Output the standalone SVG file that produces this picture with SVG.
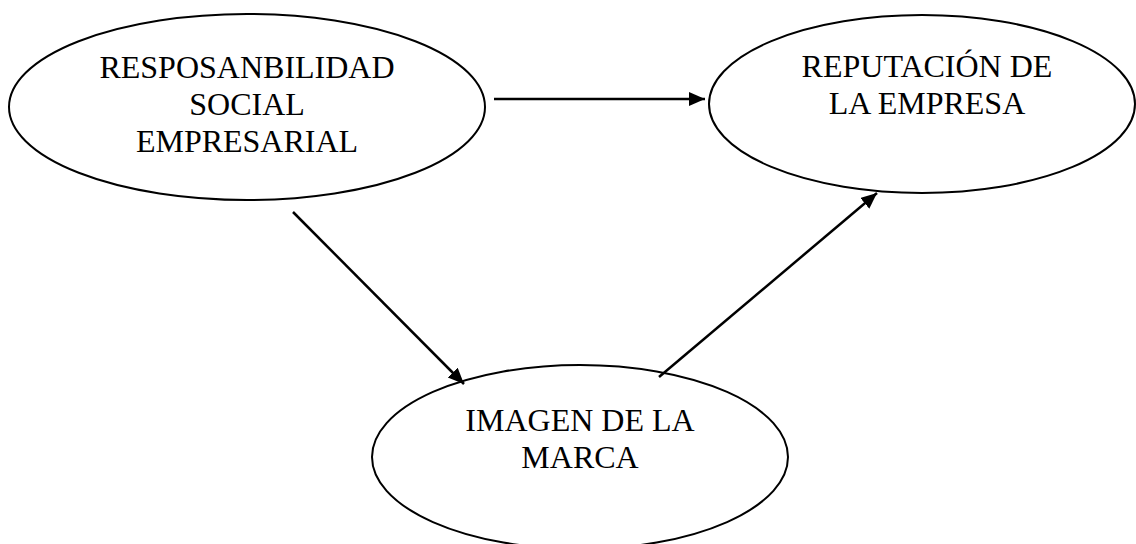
<svg xmlns="http://www.w3.org/2000/svg" width="1136" height="544" viewBox="0 0 1136 544">
  <defs>
    <marker id="arrow" markerUnits="userSpaceOnUse" markerWidth="18" markerHeight="16" refX="16" refY="7" orient="auto">
      <path d="M0,0 L16,7 L0,14 Z" fill="#000"/>
    </marker>
    <style>
      .node ellipse { fill: #fff; stroke: #000; stroke-width: 2; }
      .node text { font-family: "Liberation Serif", "Times New Roman", serif; font-size: 32px; fill: #000; text-anchor: middle; }
      .conn line { stroke: #000; stroke-width: 2.5; marker-end: url(#arrow); }
    </style>
  </defs>
  <rect width="1136" height="544" fill="#fff"/>
  <g id="node-rse" class="node">
    <ellipse cx="247" cy="107" rx="238" ry="93"/>
    <text x="247" y="78">RESPOSANBILIDAD</text>
    <text x="247" y="115">SOCIAL</text>
    <text x="247" y="152">EMPRESARIAL</text>
  </g>
  <g id="node-reputacion" class="node">
    <ellipse cx="922" cy="104" rx="213" ry="89"/>
    <text x="927" y="77">REPUTACIÓN DE</text>
    <text x="927" y="114">LA EMPRESA</text>
  </g>
  <g id="node-imagen" class="node">
    <ellipse cx="580" cy="457" rx="208" ry="92"/>
    <text x="580" y="431">IMAGEN DE LA</text>
    <text x="580" y="468">MARCA</text>
  </g>
  <g id="connectors" class="conn">
    <line x1="494" y1="99" x2="705" y2="99"/>
    <line x1="293" y1="212" x2="464" y2="384"/>
    <line x1="659" y1="377" x2="877" y2="193"/>
  </g>
</svg>
